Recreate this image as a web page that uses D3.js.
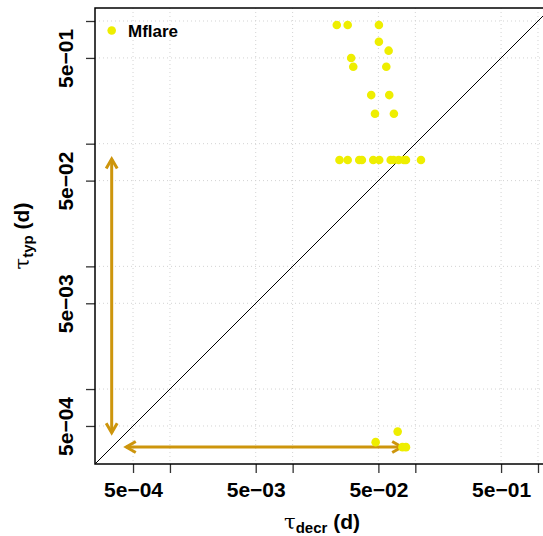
<!DOCTYPE html>
<html>
<head>
<meta charset="utf-8">
<script src="https://cdn.jsdelivr.net/npm/d3@7"></script>
<style>
  html, body { margin: 0; padding: 0; background: #fff; }
  svg { display: block; font-family: "Liberation Sans", Arial, sans-serif; }
</style>
</head>
<body>
<svg id="chart" width="543" height="536"></svg>
<script>
// Decay time vs typical time, both in days (log-log)
const seriesName = "Mflare";
const tauDecr = [
  0.0229, 0.0281, 0.0505, 0.0505, 0.0606, 0.0300, 0.0312, 0.0580, 0.0437, 0.0613, 0.0469, 0.0669,
  0.0241, 0.0281, 0.0349, 0.0367, 0.0454, 0.0508, 0.0630, 0.0664, 0.0731, 0.0808, 0.0839, 0.1112,
  0.0475, 0.0718, 0.0785, 0.0839
];
const tauTyp = [
  0.928, 0.928, 0.928, 0.678, 0.573, 0.4995, 0.424, 0.424, 0.249, 0.249, 0.1756, 0.1756,
  0.0737, 0.0737, 0.0737, 0.0737, 0.0737, 0.0737, 0.0737, 0.0737, 0.0737, 0.0737, 0.0737, 0.0737,
  0.000369, 0.00045, 0.000336, 0.000336
];
// Range indicators (double-headed arrows): [x1, y1, x2, y2]
const rangeArrows = [
  [0.000335, 0.075, 0.000335, 0.00044],
  [0.00044, 0.000337, 0.0775, 0.000337]
];
const tickValues = [5e-4, 1e-3, 5e-3, 1e-2, 5e-2, 0.1, 0.5, 1];
const tickLabels = ["5e\u221204", "", "5e\u221203", "", "5e\u221202", "", "5e\u221201", ""];
const axisDomain = [Math.pow(10, -3.611), Math.pow(10, 0.106)];

const svg = d3.select("#chart");
const plotLeft = 95, plotTop = 8, plotSize = 456;
const x = d3.scaleLog().domain(axisDomain).range([plotLeft, plotLeft + plotSize]);
const y = d3.scaleLog().domain(axisDomain).range([plotTop + plotSize, plotTop]);
const labelOf = v => tickLabels[tickValues.indexOf(v)];

// dotted grid
const grid = svg.append("g").attr("stroke", "#d3d3d3").attr("stroke-width", 1)
  .attr("stroke-dasharray", "1,3");
grid.selectAll("line.v").data(tickValues).join("line").attr("class", "v")
  .attr("x1", d => x(d)).attr("x2", d => x(d)).attr("y1", plotTop).attr("y2", plotTop + plotSize);
grid.selectAll("line.h").data(tickValues).join("line").attr("class", "h")
  .attr("y1", d => y(d)).attr("y2", d => y(d)).attr("x1", plotLeft).attr("x2", plotLeft + plotSize);

// 1:1 line
svg.append("line")
  .attr("x1", x(axisDomain[0])).attr("y1", y(axisDomain[0]))
  .attr("x2", x(axisDomain[1])).attr("y2", y(axisDomain[1]))
  .attr("stroke", "#000").attr("stroke-width", 1);

// axes
const xAxis = svg.append("g").attr("transform", `translate(0,${plotTop + plotSize})`)
  .call(d3.axisBottom(x).tickValues(tickValues).tickFormat(labelOf).tickSize(9).tickPadding(8));
const yAxis = svg.append("g").attr("transform", `translate(${plotLeft},0)`)
  .call(d3.axisLeft(y).tickValues(tickValues).tickFormat(labelOf).tickSize(9));
[xAxis, yAxis].forEach(g => {
  g.select(".domain").remove();
  g.selectAll(".tick line").attr("stroke", "#333").attr("stroke-width", 1.3);
  g.selectAll(".tick text").attr("fill", "#000").attr("font-size", 21).attr("font-weight", "bold")
    .attr("font-family", "Liberation Sans, Arial, sans-serif");
});
xAxis.selectAll(".tick text").attr("dy", null).attr("y", 33);
yAxis.selectAll(".tick text")
  .attr("x", null).attr("dy", null)
  .attr("text-anchor", "middle")
  .attr("transform", "translate(-22,0) rotate(-90)");

// box
svg.append("rect").attr("x", plotLeft).attr("y", plotTop).attr("width", plotSize).attr("height", plotSize)
  .attr("fill", "none").attr("stroke", "#000").attr("stroke-width", 1.5);

// range arrows
const arrowColor = "#cd950c";
function arrowHead(px, py, angle) {
  const len = 11, spread = Math.PI / 6;
  const p = a => [px - len * Math.cos(a), py - len * Math.sin(a)];
  const a1 = p(angle - spread), a2 = p(angle + spread);
  return `M${a1[0]},${a1[1]}L${px},${py}L${a2[0]},${a2[1]}`;
}
const ag = svg.append("g").attr("stroke", arrowColor).attr("stroke-width", 3).attr("fill", "none");
rangeArrows.forEach(([x1, y1, x2, y2]) => {
  const X1 = x(x1), Y1 = y(y1), X2 = x(x2), Y2 = y(y2);
  const ang = Math.atan2(Y2 - Y1, X2 - X1);
  ag.append("line").attr("x1", X1).attr("y1", Y1).attr("x2", X2).attr("y2", Y2);
  ag.append("path").attr("d", arrowHead(X2, Y2, ang));
  ag.append("path").attr("d", arrowHead(X1, Y1, ang + Math.PI));
});

// points
svg.append("g").selectAll("circle").data(tauDecr).join("circle")
  .attr("cx", d => x(d)).attr("cy", (d, i) => y(tauTyp[i])).attr("r", 4.3)
  .attr("fill", "#eeee00");

// legend
svg.append("circle").attr("cx", 111.7).attr("cy", 30.5).attr("r", 4.3).attr("fill", "#eeee00");
svg.append("text").attr("x", 128).attr("y", 37).attr("font-size", 17).attr("font-weight", "bold")
  .text(seriesName);

// axis titles
const xt = svg.append("text").attr("x", plotLeft + plotSize / 2 - 1).attr("y", 529)
  .attr("text-anchor", "middle").attr("font-size", 21).attr("font-weight", "bold");
xt.append("tspan").attr("font-weight", "normal").attr("font-family", "DejaVu Serif, serif").text("\u03c4");
xt.append("tspan").attr("font-size", 15).attr("dy", 4).text("decr");
xt.append("tspan").attr("dy", -4).text(" (d)");

const yt = svg.append("text").attr("transform", `translate(29,${plotTop + plotSize / 2}) rotate(-90)`)
  .attr("text-anchor", "middle").attr("font-size", 21).attr("font-weight", "bold");
yt.append("tspan").attr("font-weight", "normal").attr("font-family", "DejaVu Serif, serif").text("\u03c4");
yt.append("tspan").attr("font-size", 15).attr("dy", 4).text("typ");
yt.append("tspan").attr("dy", -4).text(" (d)");
</script>
</body>
</html>
